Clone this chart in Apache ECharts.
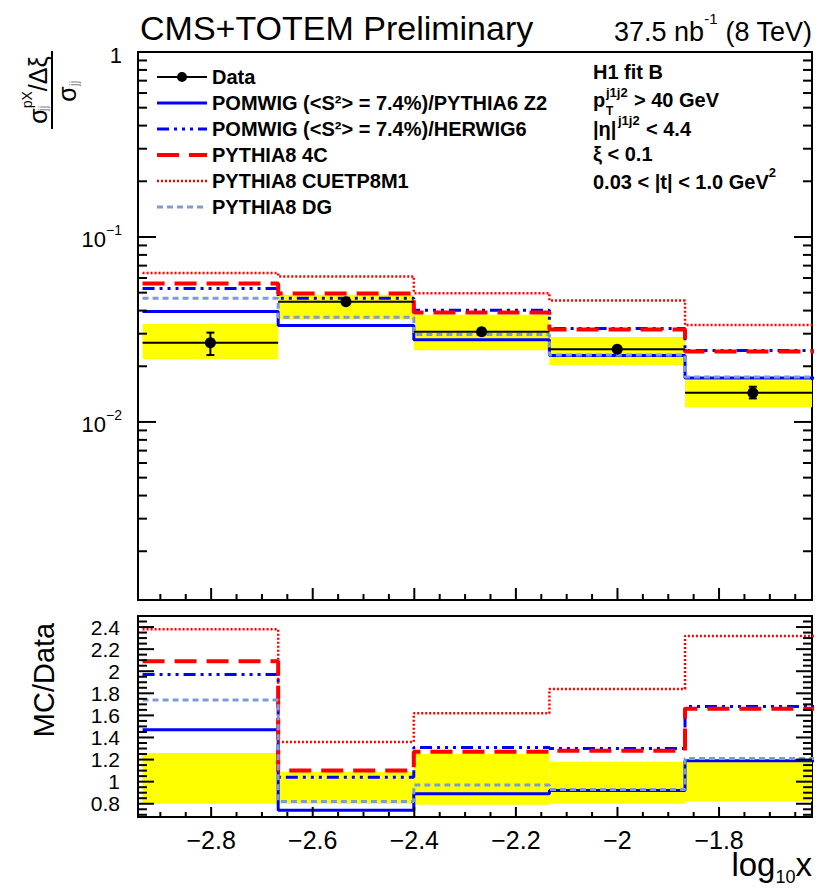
<!DOCTYPE html>
<html lang="en">
<head>
<meta charset="UTF-8">
<title>CMS+TOTEM Preliminary - log10 x</title>
<script src="https://cdn.jsdelivr.net/npm/echarts@6.0.0/dist/echarts.min.js"></script>
<style>
  html, body { margin: 0; padding: 0; background: #fff; }
  #main { width: 818px; height: 891px; }
</style>
</head>
<body>
<div id="main"></div>
<script>
// ---- values ----
const binEdges = [-2.935, -2.668, -2.401, -2.134, -1.867, -1.6];

const dataVal    = [0.0268, 0.0447, 0.0307, 0.0247, 0.0144];
const dataStatLo = [0.0230, 0.0436, 0.0299, 0.0240, 0.0134];
const dataStatHi = [0.0304, 0.0458, 0.0315, 0.0254, 0.0155];
const dataSystLo = [0.0219, 0.0358, 0.0244, 0.0203, 0.0120];
const dataSystHi = [0.0339, 0.0487, 0.0380, 0.0288, 0.0168];

const mcZ2       = [0.0395, 0.0332, 0.0278, 0.0229, 0.0173];
const mcHerwig6  = [0.0526, 0.0466, 0.0402, 0.0320, 0.0243];
const mc4C       = [0.0560, 0.0495, 0.0390, 0.0316, 0.0240];
const mcCUETP8M1 = [0.0638, 0.0612, 0.0497, 0.0453, 0.0334];
const mcDG       = [0.0466, 0.0368, 0.0297, 0.0230, 0.0175];

const ratioZ2       = [1.47, 0.74, 0.89, 0.92, 1.19];
const ratioHerwig6  = [1.97, 1.04, 1.31, 1.30, 1.68];
const ratio4C       = [2.09, 1.10, 1.27, 1.28, 1.66];
const ratioCUETP8M1 = [2.38, 1.36, 1.62, 1.84, 2.32];
const ratioDG       = [1.74, 0.82, 0.97, 0.93, 1.21];
const ratioBandLo   = [0.80, 0.80, 0.79, 0.80, 0.82];
const ratioBandHi   = [1.26, 1.09, 1.25, 1.18, 1.18];

const xTicksMajor = [-2.8, -2.6, -2.4, -2.2, -2.0, -1.8];
const yTicksMajor = [0.01, 0.1, 1];
const ratioTicksMajor = [0.8, 1, 1.2, 1.4, 1.6, 1.8, 2, 2.2, 2.4];

// ---- axis ranges / fonts ----
const X_RANGE = [-2.944, -1.617];
const Y_RANGE = [0.00109, 1];
const R_RANGE = [0.68, 2.5];
const FONT = '"Liberation Sans", Arial, Helvetica, sans-serif';

function stepTicks(from, to, step, skip) {
  const out = [];
  for (let v = from; v <= to + 1e-9; v += step) {
    const r = Math.round(v * 1000) / 1000;
    if (!skip.some(s => Math.abs(s - r) < 1e-6)) out.push(r);
  }
  return out;
}
const xTicksMinor = stepTicks(-2.9, -1.65, 0.05, xTicksMajor);
const ratioTicksMinor = stepTicks(0.7, 2.45, 0.05, ratioTicksMajor);
const yTicksMinor = [];
[0.001, 0.01, 0.1].forEach(d => {
  for (let k = 2; k <= 9; k++) yTicksMinor.push(+(k * d).toPrecision(2));
});

const mcDefs = [
  { name: 'POMWIG (<S²> = 7.4%)/PYTHIA6 Z2', up: mcZ2, ratio: ratioZ2, color: '#0000ff', width: 3, dash: 'solid' },
  { name: 'POMWIG (<S²> = 7.4%)/HERWIG6', up: mcHerwig6, ratio: ratioHerwig6, color: '#0000ff', width: 3, dash: [12, 5, 3, 5, 3, 5, 3, 5] },
  { name: 'PYTHIA8 4C', up: mc4C, ratio: ratio4C, color: '#ff0000', width: 4, dash: [22, 10] },
  { name: 'PYTHIA8 CUETP8M1', up: mcCUETP8M1, ratio: ratioCUETP8M1, color: '#ff0000', width: 2.5, dash: [2, 2] },
  { name: 'PYTHIA8 DG', up: mcDG, ratio: ratioDG, color: '#7b9bd9', width: 3, dash: [6, 4] }
];

function histPoints(vals) {
  return binEdges.map((e, i) => [e, vals[Math.min(i, vals.length - 1)]]);
}

// ---- grids and axes ----
const grids = [
  { left: 138, top: 52, width: 674, height: 548, containLabel: false, outerBoundsMode: 'none' },
  { left: 138, top: 616, width: 674, height: 201, containLabel: false, outerBoundsMode: 'none' }
];

function frameAxis(gridIndex, position, range, extra) {
  return Object.assign({
    type: 'value', gridIndex: gridIndex, position: position,
    min: range[0], max: range[1],
    axisLine: { show: true, onZero: false, lineStyle: { color: '#000', width: 2 } },
    axisTick: { show: false },
    axisLabel: { show: false },
    splitLine: { show: false }
  }, extra || {});
}

const minus = v => (v < 0 ? '\u2212' : '') + Math.abs(v);

const xLabel = {
  show: true, customValues: xTicksMajor, margin: 10,
  fontFamily: FONT, fontSize: 25, color: '#000', formatter: minus
};
const ratioLabel = {
  show: true, customValues: ratioTicksMajor, margin: 18,
  fontFamily: FONT, fontSize: 21, lineHeight: 20, color: '#000', formatter: v => String(v)
};
const logLabel = {
  show: true, customValues: yTicksMajor, margin: 16,
  formatter: v => v >= 1 ? '{b|1}' : '{b|10}{s|\u2212' + Math.round(-Math.log10(v)) + '}',
  rich: {
    b: { fontFamily: FONT, fontSize: 22, color: '#000', lineHeight: 28, verticalAlign: 'bottom' },
    s: { fontFamily: FONT, fontSize: 14, color: '#000', lineHeight: 28, verticalAlign: 'top' }
  }
};

const xAxes = [
  frameAxis(0, 'bottom', X_RANGE),
  frameAxis(0, 'top', X_RANGE),
  frameAxis(1, 'bottom', X_RANGE, { axisLabel: xLabel }),
  frameAxis(1, 'top', X_RANGE)
];
const yAxes = [
  frameAxis(0, 'left', Y_RANGE, { type: 'log', logBase: 10, axisLabel: logLabel }),
  frameAxis(0, 'right', Y_RANGE, { type: 'log', logBase: 10 }),
  frameAxis(1, 'left', R_RANGE, { axisLabel: ratioLabel }),
  frameAxis(1, 'right', R_RANGE)
];

// ---- series ----
function bandSeries(xi, yi, lo, hi) {
  return {
    type: 'custom', xAxisIndex: xi, yAxisIndex: yi, silent: true, z: 1,
    encode: { x: 0, y: 1 },
    data: lo.map((l, i) => [(binEdges[i] + binEdges[i + 1]) / 2, l, hi[i], binEdges[i], binEdges[i + 1]]),
    renderItem: (params, api) => {
      const p0 = api.coord([Math.max(api.value(3), X_RANGE[0]), api.value(2)]);
      const p1 = api.coord([Math.min(api.value(4), X_RANGE[1]), api.value(1)]);
      return { type: 'rect', shape: { x: p0[0], y: p0[1], width: p1[0] - p0[0], height: p1[1] - p0[1] },
               style: { fill: '#ffff00' } };
    }
  };
}

// inward tick marks (left, right, bottom of a frame) as thin filled bars placed by the axes' scales
function tickSeries(xi, yi, yRange, yMajor, yMinor, lens) {
  const items = [];
  yMajor.forEach(v => items.push([-2.5, v, 0, lens.yMaj]));
  yMinor.forEach(v => items.push([-2.5, v, 0, lens.yMin]));
  xTicksMajor.forEach(v => items.push([v, yRange[0], 1, lens.xMaj]));
  xTicksMinor.forEach(v => items.push([v, yRange[0], 1, lens.xMin]));
  const W = 2;
  return {
    type: 'custom', xAxisIndex: xi, yAxisIndex: yi, silent: true, z: 5,
    encode: { x: 0, y: 1 },
    data: items,
    renderItem: (params, api) => {
      const len = api.value(3);
      if (api.value(2) === 0) {
        const a = api.coord([X_RANGE[0], api.value(1)]);
        const b = api.coord([X_RANGE[1], api.value(1)]);
        return { type: 'group', children: [
          { type: 'rect', shape: { x: a[0], y: a[1] - W / 2, width: len, height: W }, style: { fill: '#000' } },
          { type: 'rect', shape: { x: b[0] - len, y: b[1] - W / 2, width: len, height: W }, style: { fill: '#000' } }
        ]};
      }
      const c = api.coord([api.value(0), yRange[0]]);
      return { type: 'rect', shape: { x: c[0] - W / 2, y: c[1] - len, width: W, height: len }, style: { fill: '#000' } };
    }
  };
}

const series = [bandSeries(0, 0, dataSystLo, dataSystHi)];
mcDefs.forEach(d => series.push({
  name: d.name, type: 'line', xAxisIndex: 0, yAxisIndex: 0, step: 'end', symbol: 'none',
  z: 2, silent: true, data: histPoints(d.up),
  itemStyle: { color: d.color },
  lineStyle: { color: d.color, width: d.width, type: d.dash }
}));
series.push({
  name: 'Data', type: 'custom', xAxisIndex: 0, yAxisIndex: 0, z: 3, silent: true,
  itemStyle: { color: '#000' },
  encode: { x: 0, y: 1 },
  data: dataVal.map((v, i) => [(binEdges[i] + binEdges[i + 1]) / 2, v, dataStatLo[i], dataStatHi[i], binEdges[i], binEdges[i + 1]]),
  renderItem: (params, api) => {
    const cx = api.value(0);
    const pL = api.coord([Math.max(api.value(4), X_RANGE[0]), api.value(1)]);
    const pR = api.coord([Math.min(api.value(5), X_RANGE[1]), api.value(1)]);
    const pC = api.coord([cx, api.value(1)]);
    const pLo = api.coord([cx, api.value(2)]);
    const pHi = api.coord([cx, api.value(3)]);
    const st = { stroke: '#000', lineWidth: 2 };
    return { type: 'group', children: [
      { type: 'line', shape: { x1: pL[0], y1: pL[1], x2: pR[0], y2: pR[1] }, style: st },
      { type: 'line', shape: { x1: pC[0], y1: pLo[1], x2: pC[0], y2: pHi[1] }, style: st },
      { type: 'line', shape: { x1: pC[0] - 4, y1: pLo[1], x2: pC[0] + 4, y2: pLo[1] }, style: st },
      { type: 'line', shape: { x1: pC[0] - 4, y1: pHi[1], x2: pC[0] + 4, y2: pHi[1] }, style: st },
      { type: 'circle', shape: { cx: pC[0], cy: pC[1], r: 5.5 }, style: { fill: '#000' } }
    ]};
  }
});
series.push(bandSeries(2, 2, ratioBandLo, ratioBandHi));
mcDefs.forEach(d => series.push({
  name: d.name, type: 'line', xAxisIndex: 2, yAxisIndex: 2, step: 'end', symbol: 'none',
  z: 2, silent: true, data: histPoints(d.ratio),
  itemStyle: { color: d.color },
  lineStyle: { color: d.color, width: d.width, type: d.dash }
}));
series.push(tickSeries(0, 0, Y_RANGE, yTicksMajor, yTicksMinor, { xMaj: 12, xMin: 6, yMaj: 18, yMin: 9 }));
series.push(tickSeries(2, 2, R_RANGE, ratioTicksMajor, ratioTicksMinor, { xMaj: 10, xMin: 5, yMaj: 16, yMin: 9 }));

// ---- text decorations ----
const txt = (x, y, text, size, extra) => ({
  type: 'text', x: x, y: y, silent: true,
  style: Object.assign({ text: text, fill: '#000', fontFamily: FONT, fontSize: size,
                         align: 'left', verticalAlign: 'middle' }, extra || {})
});
const bold = { fontWeight: 'bold' };
const boldRich = {
  b: { fontFamily: FONT, fontWeight: 'bold', fontSize: 20, lineHeight: 26, verticalAlign: 'bottom', fill: '#000' },
  s: { fontFamily: FONT, fontWeight: 'bold', fontSize: 13, lineHeight: 26, verticalAlign: 'top', fill: '#000' }
};

const graphics = [
  txt(140, 28, 'CMS+TOTEM Preliminary', 34),
  txt(812, 28, '{b|37.5 nb}{s|-1}{b| (8 TeV)}', 27, {
    align: 'right',
    rich: {
      b: { fontFamily: FONT, fontSize: 27, lineHeight: 34, verticalAlign: 'bottom', fill: '#000' },
      s: { fontFamily: FONT, fontSize: 15, lineHeight: 34, verticalAlign: 'top', fill: '#000' }
    }
  }),
  txt(593, 72, 'H1 fit B', 20, bold),
  txt(593, 100, 'p', 20, bold),
  txt(606, 92, 'j1j2', 13, bold),
  txt(606, 110.5, 'T', 12, bold),
  txt(634, 100, '> 40 GeV', 20, bold),
  txt(593, 129, '|\u03b7|', 20, bold),
  txt(618, 120, 'j1j2', 13, bold),
  txt(646, 129, '< 4.4', 20, bold),
  txt(593, 154, '\u03be < 0.1', 20, bold),
  txt(593, 179, '{b|0.03 < |t| < 1.0 GeV}{s|2}', 20, { rich: boldRich }),
  // y title of the upper panel (fraction, rotated)
  {
    type: 'group', x: 52, y: 90, rotation: Math.PI / 2, silent: true,
    children: [
      { type: 'line', shape: { x1: -39, y1: 0, x2: 39, y2: 0 }, style: { stroke: '#000', lineWidth: 2 } },
      { type: 'text', x: 0, y: -2, style: {
          text: '{b|\u03c3}{s|pX}{b|/\u0394\u03be}', align: 'center', verticalAlign: 'bottom',
          rich: {
            b: { fontFamily: FONT, fontSize: 25, lineHeight: 30, verticalAlign: 'bottom', fill: '#000' },
            s: { fontFamily: FONT, fontSize: 14, lineHeight: 30, verticalAlign: 'top', fill: '#000' }
          } } },
      { type: 'text', x: -21, y: -3, style: { text: 'jj', fill: '#888', fontFamily: FONT, fontSize: 12,
          align: 'left', verticalAlign: 'bottom' } },
      { type: 'text', x: -4, y: 2, style: { text: '\u03c3', fill: '#000', fontFamily: FONT, fontSize: 25,
          align: 'center', verticalAlign: 'top' } },
      { type: 'text', x: 4, y: 16, style: { text: 'jj', fill: '#888', fontFamily: FONT, fontSize: 12,
          align: 'left', verticalAlign: 'top' } }
    ]
  },
  Object.assign(txt(44, 680, 'MC/Data', 29, { align: 'center' }), { rotation: Math.PI / 2 }),
  txt(812, 867, '{b|log}{s|10}{b|x}', 32, {
    align: 'right',
    rich: {
      b: { fontFamily: FONT, fontSize: 33, lineHeight: 38, verticalAlign: 'top', fill: '#000' },
      s: { fontFamily: FONT, fontSize: 18, lineHeight: 38, verticalAlign: 'bottom', fill: '#000' }
    }
  })
];

const option = {
  animation: false,
  backgroundColor: '#fff',
  grid: grids,
  xAxis: xAxes,
  yAxis: yAxes,
  legend: {
    left: 150, top: 62, orient: 'vertical', padding: 5,
    itemWidth: 50, itemHeight: 14, itemGap: 6, itemTextGap: 13,
    selectedMode: false,
    textStyle: { fontFamily: FONT, fontWeight: 'bold', fontSize: 20, color: '#000', lineHeight: 20 },
    itemStyle: { opacity: 0 },
    data: [{ name: 'Data', icon: 'path://M0,4h50v2h-50z M25,0a5,5 0 1,1 0,10a5,5 0 1,1 0,-10z',
             itemStyle: { opacity: 1, color: '#000' } }]
      .concat(mcDefs.map(d => ({ name: d.name, lineStyle: { color: d.color, width: d.width, type: d.dash } })))
  },
  graphic: graphics,
  series: series
};

const chart = echarts.init(document.getElementById('main'), null, { renderer: 'svg' });
chart.setOption(option);
</script>
</body>
</html>
